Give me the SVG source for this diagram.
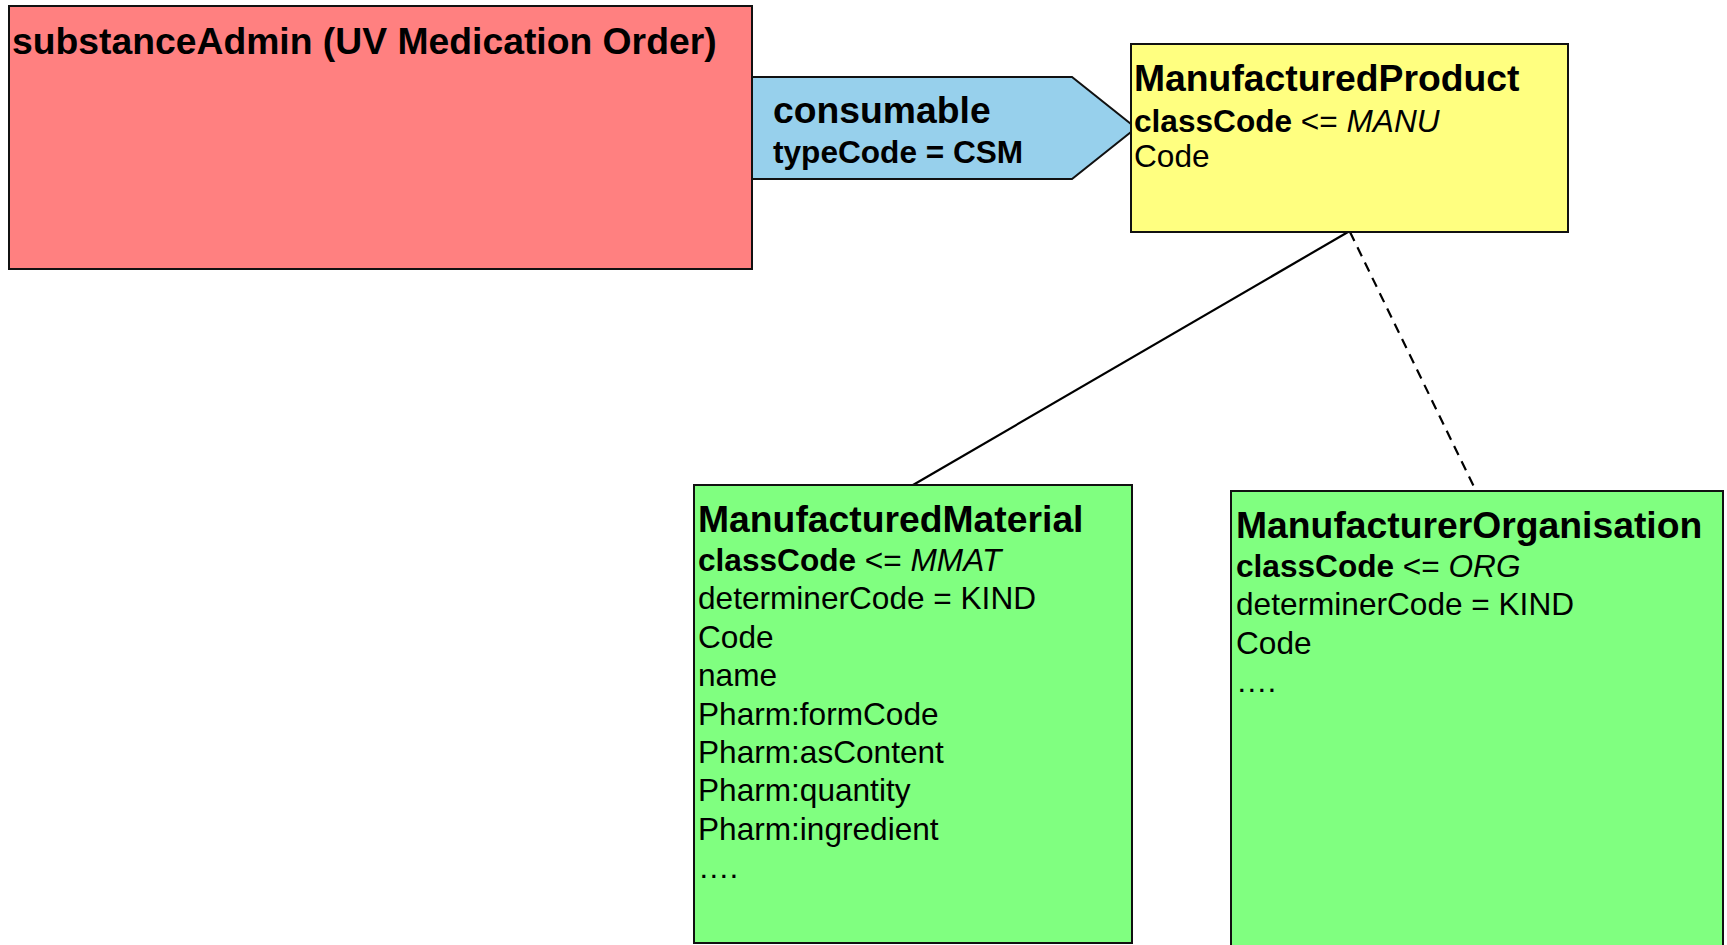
<svg xmlns="http://www.w3.org/2000/svg" width="1727" height="945" viewBox="0 0 1727 945">
<style>
text{font-family:"Liberation Sans",Arial,sans-serif;fill:#000}
.box{stroke:#111;stroke-width:2}
.t{font-size:37.3px;font-weight:bold}
.b{font-size:31.6px}
.bb{font-weight:bold}
.i{font-style:italic}
.con{stroke:#000;stroke-width:2.2;fill:none}
</style>
<rect width="1727" height="945" fill="#fff"/>
<g id="connectors">
<line class="con" x1="1348" y1="232" x2="913" y2="485"/>
<line class="con" x1="1350" y1="232" x2="1476" y2="491" stroke-dasharray="10,7"/>
</g>
<g id="substanceAdmin">
<rect class="box" x="9" y="6" width="743" height="263" fill="#FF8080"/>
<text class="t" x="12" y="54" font-size="37.8">substanceAdmin (UV Medication Order)</text>
</g>
<g id="consumable">
<polygon class="box" points="752,77 1072,77 1136,128 1072,179 752,179" fill="#97D0EC" stroke-width="1.5"/>
<text class="t" x="773" y="123">consumable</text>
<text class="b bb" x="773" y="163">typeCode = CSM</text>
</g>
<g id="manufacturedProduct">
<rect class="box" x="1131" y="44" width="437" height="188" fill="#FFFF80"/>
<text class="t" x="1134" y="91">ManufacturedProduct</text>
<text class="b" x="1134" y="132"><tspan class="bb">classCode</tspan> &lt;= <tspan class="i">MANU</tspan></text>
<text class="b" x="1134" y="167">Code</text>
</g>
<g id="manufacturedMaterial">
<rect class="box" x="694" y="485" width="438" height="458" fill="#80FF80"/>
<text class="t" x="698" y="532">ManufacturedMaterial</text>
<text class="b" x="698" y="571"><tspan class="bb">classCode</tspan> &lt;= <tspan class="i">MMAT</tspan></text>
<text class="b" x="698" y="609">determinerCode = KIND</text>
<text class="b" x="698" y="648">Code</text>
<text class="b" x="698" y="686">name</text>
<text class="b" x="698" y="725">Pharm:formCode</text>
<text class="b" x="698" y="763">Pharm:asContent</text>
<text class="b" x="698" y="801">Pharm:quantity</text>
<text class="b" x="698" y="840">Pharm:ingredient</text>
<text class="b" x="698" y="878">….</text>
</g>
<g id="manufacturerOrganisation">
<rect class="box" x="1231" y="491" width="492" height="470" fill="#80FF80"/>
<text class="t" x="1236" y="538">ManufacturerOrganisation</text>
<text class="b" x="1236" y="577"><tspan class="bb">classCode</tspan> &lt;= <tspan class="i">ORG</tspan></text>
<text class="b" x="1236" y="615">determinerCode = KIND</text>
<text class="b" x="1236" y="654">Code</text>
<text class="b" x="1236" y="692">….</text>
</g>
</svg>
